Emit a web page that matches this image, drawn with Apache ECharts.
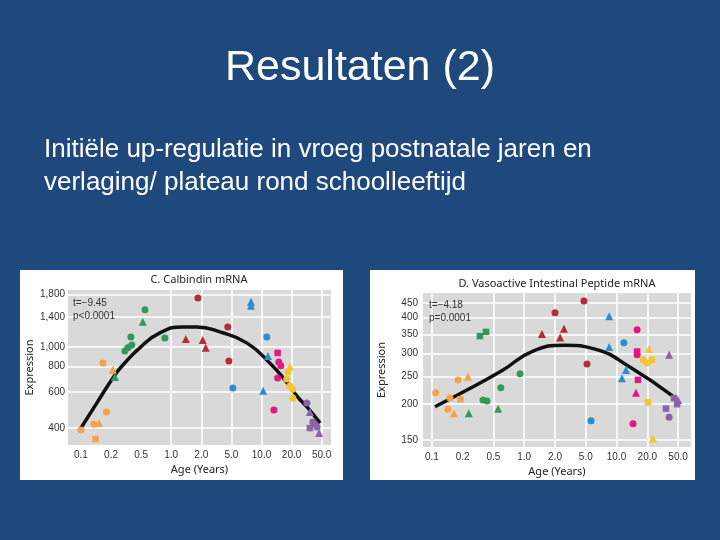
<!DOCTYPE html>
<html>
<head>
<meta charset="utf-8">
<script src="https://cdn.jsdelivr.net/npm/echarts@6/dist/echarts.min.js"></script>
<style>
  html, body { margin: 0; padding: 0; background: #1f497d; }
  #chart { width: 720px; height: 540px; }
</style>
</head>
<body>
<div id="chart"></div>
<script>
// age axis of the figure: the 1-2-5 ticks are evenly spaced
const ageTicks = [0.1, 0.2, 0.5, 1, 2, 5, 10, 20, 50];
const ageTickLabels = ['0.1', '0.2', '0.5', '1.0', '2.0', '5.0', '10.0', '20.0', '50.0'];
const calbTicks = [400, 600, 800, 1000, 1400, 1800];
const vipTicks = [150, 200, 250, 300, 350, 400, 450];

// [age in years, expression, shape]  c = circle, t = triangle, s = square
const calbOrange = [[0.10, 391, 'c'], [0.14, 353, 's'], [0.135, 418, 'c'], [0.152, 423, 't'], [0.18, 479, 'c'], [0.166, 833, 'c'], [0.211, 771, 't']];
const calbGreen = [[0.225, 711, 't'], [0.305, 953, 'c'], [0.334, 988, 'c'], [0.376, 1021, 'c'], [0.366, 1117, 'c'], [0.546, 1516, 'c'], [0.52, 1325, 't'], [0.864, 1105, 'c']];
const calbRed = [[1.85, 1735, 'c'], [1.40, 1092, 't'], [2.09, 1080, 't'], [2.29, 988, 't'], [4.48, 1251, 'c'], [4.63, 851, 'c']];
const calbBlue = [[7.85, 1660, 't'], [7.85, 1590, 't'], [11.3, 1117, 'c'], [11.6, 901, 't'], [5.17, 628, 'c'], [10.4, 609, 't']];
const calbMagenta = [[14.5, 933, 's'], [14.9, 842, 'c'], [15.6, 808, 'c'], [14.5, 704, 'c'], [13.3, 490, 'c']];
const calbYellow = [[19.2, 800, 't'], [18.4, 753, 'c'], [17.9, 696, 'c'], [19.2, 643, 'c'], [20.7, 620, 'c'], [20.7, 561, 'c']];
const calbPurple = [[31.9, 530, 'c'], [34.9, 479, 't'], [38.2, 428, 'c'], [40.5, 419, 'c'], [34.9, 400, 's'], [43.3, 405, 'c'], [46.3, 378, 't']];
const calbFit = [[0.10, 400], [0.144, 530], [0.225, 728], [0.289, 816], [0.48, 988], [0.77, 1170], [1.31, 1251], [1.80, 1251], [3.53, 1182], [7.12, 1045], [12.1, 833], [17.2, 687], [24.2, 567], [32.8, 502], [47.6, 423]];

const vipOrange = [[0.109, 219, 'c'], [0.15, 210, 'c'], [0.18, 243, 'c'], [0.234, 249, 't'], [0.19, 208, 's'], [0.143, 192, 'c'], [0.164, 186, 't']];
const vipGreen = [[0.366, 207, 'c'], [0.412, 205, 'c'], [0.59, 228, 'c'], [0.24, 186, 't'], [0.555, 193, 't'], [0.91, 255, 'c'], [0.334, 345, 's'], [0.401, 357, 's']];
const vipRed = [[2.0, 416, 'c'], [4.74, 457, 'c'], [1.49, 351, 't'], [2.61, 366, 't'], [2.33, 341, 't'], [5.14, 276, 'c']];
const vipBlue = [[8.47, 405, 't'], [8.47, 316, 't'], [11.8, 327, 'c'], [12.4, 263, 't'], [11.3, 246, 't'], [5.63, 175, 'c']];
const vipMagenta = [[15.9, 363, 'c'], [15.9, 305, 's'], [15.9, 297, 'c'], [16.2, 243, 's'], [15.5, 219, 't'], [14.5, 171, 'c']];
const vipYellow = [[21.1, 311, 't'], [18.2, 285, 'c'], [19.9, 278, 'c'], [22.9, 285, 's'], [20.4, 203, 's'], [23.6, 152, 't']];
const vipPurple = [[38.3, 297, 't'], [44.3, 210, 's'], [50, 207, 't'], [48.6, 200, 's'], [34.9, 193, 's'], [38.3, 180, 'c']];
const vipFit = [[0.107, 196], [0.227, 224], [0.62, 263], [1.19, 305], [2.70, 321], [6.16, 311], [13.6, 269], [43.2, 213]];

const colors = {
  orange: '#f6a246', green: '#2f9a5c', red: '#b32d38', blue: '#2a8fcc',
  magenta: '#e1187f', yellow: '#f4c530', purple: '#8a64a8'
};
const shapes = { c: 'circle', t: 'triangle', s: 'rect' };

// position on the age axis: log spacing inside each 1-2-5 step
function agePos(age) {
  const n = ageTicks.length;
  for (let i = 0; i < n - 1; i++) {
    if (age <= ageTicks[i + 1] || i === n - 2) {
      return i + Math.log(age / ageTicks[i]) / Math.log(ageTicks[i + 1] / ageTicks[i]);
    }
  }
}

function scatter(idx, rows, color) {
  return {
    type: 'scatter', xAxisIndex: idx, yAxisIndex: idx,
    data: rows.map(r => [agePos(r[0]), Math.log10(r[1]), r[2]]),
    symbol: v => shapes[v[2]],
    symbolSize: v => v[2] === 't' ? 8 : (v[2] === 's' ? 6.5 : 7),
    itemStyle: { color: color, opacity: 1 },
    z: 3
  };
}

function fit(idx, rows) {
  return {
    type: 'line', xAxisIndex: idx, yAxisIndex: idx,
    data: rows.map(r => [agePos(r[0]), Math.log10(r[1])]),
    smooth: 0.5, showSymbol: false,
    lineStyle: { color: '#111', width: 3.5 },
    z: 2
  };
}

const tickFont = { color: '#333', fontSize: 10, fontFamily: 'Liberation Sans Narrow, Liberation Sans, sans-serif' };
const nameFont = { color: '#222', fontSize: 11, fontFamily: 'Noto Sans, sans-serif' };

function xAxis(gridIndex, min, max, lines) {
  return {
    type: 'value', gridIndex: gridIndex, min: min, max: max,
    name: 'Age (Years)', nameLocation: 'middle', nameGap: 19, nameTextStyle: nameFont,
    axisLine: { show: false },
    axisTick: { show: false, customValues: lines },
    axisLabel: Object.assign({ customValues: ageTicks.map((t, i) => i), margin: 5,
      formatter: v => ageTickLabels[Math.round(v)] }, tickFont),
    splitLine: { show: true, lineStyle: { color: '#fff', width: 1.5 } }
  };
}

function yAxis(gridIndex, min, max, ticks, gap, margin) {
  const vals = ticks.map(t => Math.log10(t));
  return {
    type: 'value', gridIndex: gridIndex, min: min, max: max,
    name: 'Expression', nameLocation: 'middle', nameGap: gap, nameTextStyle: nameFont,
    axisLine: { show: false },
    axisTick: { show: false, customValues: vals },
    axisLabel: Object.assign({ customValues: vals, margin: margin,
      formatter: v => Math.round(Math.pow(10, v)).toLocaleString('en-US') }, tickFont),
    splitLine: { show: true, lineStyle: { color: '#fff', width: 1.5 } }
  };
}

const chart = echarts.init(document.getElementById('chart'), null, { renderer: 'canvas' });

chart.setOption({
  backgroundColor: '#1f497d',
  animation: false,
  graphic: [
    { type: 'rect', z: -10, shape: { x: 20, y: 270, width: 323, height: 210 }, style: { fill: '#fff' } },
    { type: 'rect', z: -10, shape: { x: 370, y: 270, width: 325, height: 210 }, style: { fill: '#fff' } },
    { type: 'text', x: 360, y: 68, style: { text: 'Resultaten (2)', fill: '#fff', font: '43px "Liberation Sans", Arial, sans-serif', textAlign: 'center', textVerticalAlign: 'middle' } },
    { type: 'text', x: 44, y: 150, style: { text: 'Initiële up-regulatie in vroeg postnatale jaren en', fill: '#fff', font: '26px "Liberation Sans", Arial, sans-serif', textVerticalAlign: 'middle' } },
    { type: 'text', x: 44, y: 183, style: { text: 'verlaging/ plateau rond schoolleeftijd', fill: '#fff', font: '26px "Liberation Sans", Arial, sans-serif', textVerticalAlign: 'middle' } },
    { type: 'text', x: 199, y: 280, style: { text: 'C. Calbindin mRNA', fill: '#222', font: '11px "Noto Sans", sans-serif', textAlign: 'center', textVerticalAlign: 'middle' } },
    { type: 'text', x: 557, y: 284, style: { text: 'D. Vasoactive Intestinal Peptide mRNA', fill: '#222', font: '11px "Noto Sans", sans-serif', textAlign: 'center', textVerticalAlign: 'middle' } },
    { type: 'text', x: 73, y: 303, z: 10, style: { text: 't=\u22129.45', fill: '#333', font: '10px "Liberation Sans", sans-serif', textVerticalAlign: 'middle' } },
    { type: 'text', x: 73, y: 316, z: 10, style: { text: 'p<0.0001', fill: '#333', font: '10px "Liberation Sans", sans-serif', textVerticalAlign: 'middle' } },
    { type: 'text', x: 429, y: 305, z: 10, style: { text: 't=\u22124.18', fill: '#333', font: '10px "Liberation Sans", sans-serif', textVerticalAlign: 'middle' } },
    { type: 'text', x: 429, y: 318, z: 10, style: { text: 'p=0.0001', fill: '#333', font: '10px "Liberation Sans", sans-serif', textVerticalAlign: 'middle' } }
  ],
  grid: [
    { left: 68, top: 290, width: 263, height: 155, show: true, backgroundColor: '#d9d9d9', borderWidth: 0 },
    { left: 423, top: 293, width: 268, height: 154, show: true, backgroundColor: '#d9d9d9', borderWidth: 0 }
  ],
  xAxis: [
    xAxis(0, -0.43, 8.31, [3, 4, 5, 6, 7, 8]),
    xAxis(1, -0.29, 8.42, [0, 2, 3, 4, 5, 6, 7, 8])
  ],
  yAxis: [
    yAxis(0, 2.519, 3.278, calbTicks, 33, 3),
    yAxis(1, 2.152, 2.688, vipTicks, 36, 5)
  ],
  series: [
    fit(0, calbFit),
    scatter(0, calbOrange, colors.orange),
    scatter(0, calbGreen, colors.green),
    scatter(0, calbRed, colors.red),
    scatter(0, calbBlue, colors.blue),
    scatter(0, calbMagenta, colors.magenta),
    scatter(0, calbYellow, colors.yellow),
    scatter(0, calbPurple, colors.purple),
    fit(1, vipFit),
    scatter(1, vipOrange, colors.orange),
    scatter(1, vipGreen, colors.green),
    scatter(1, vipRed, colors.red),
    scatter(1, vipBlue, colors.blue),
    scatter(1, vipMagenta, colors.magenta),
    scatter(1, vipYellow, colors.yellow),
    scatter(1, vipPurple, colors.purple)
  ]
});

window.addEventListener('resize', chart.resize);
</script>
</body>
</html>
